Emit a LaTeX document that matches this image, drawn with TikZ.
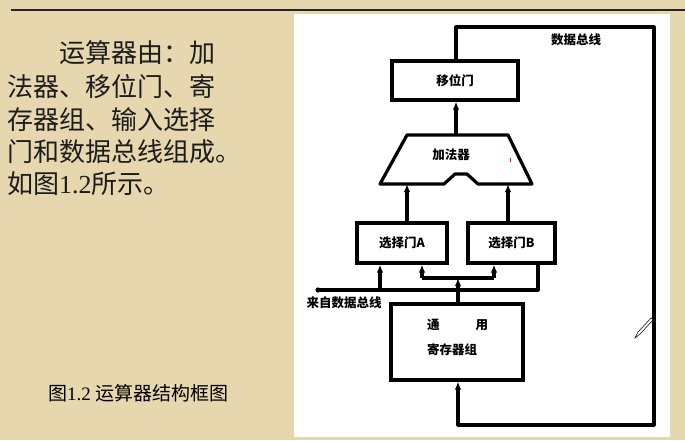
\documentclass[tikz,border=0pt]{standalone}
\usepackage{fontspec}
\newfontfamily\cjk{Noto Sans CJK SC}
\newfontfamily\tms{Liberation Serif}
\usetikzlibrary{arrows.meta}
\definecolor{bg}{RGB}{230,215,175}
\definecolor{ink}{RGB}{28,28,28}
\begin{document}
\begin{tikzpicture}[x=1pt,y=-1pt,
  box/.style={draw, line width=3.2pt, inner sep=0pt, font=\cjk\bfseries\fontsize{12.5}{14}\selectfont},
  lbl/.style={inner sep=0pt, font=\cjk\bfseries\fontsize{12.5}{14}\selectfont},
  wire/.style={line width=3.2pt},
  arr/.style={wire, -{Latex[length=8pt,width=6.5pt]}},
  big/.style={anchor=west, inner sep=0pt, text=ink, font=\cjk\fontsize{26}{30}\selectfont}]
\fill[bg] (0,0) rectangle (685,440);
\useasboundingbox (0,0) rectangle (685,440);
\draw[line width=1.3pt, black!85] (11,10) -- (685,10);
\fill[white] (294,14) rectangle (670,437);

% left text
\node[big] (t1) at (59,53) {运算器由：加};
\node[big] (t2) at (7,87) {法器、移位门、寄};
\node[big] (t3) at (7,120) {存器组、输入选择};
\node[big] (t4) at (7,152) {门和数据总线组成。};
\node[big] (t5) at (7,184) {如图{\tms 1.2}所示。};
\node[anchor=west, inner sep=0pt, font=\cjk\fontsize{19}{22}\selectfont] (cap) at (48,393) {图{\tms 1.2} 运算器结构框图};

% boxes
\node[box, minimum width=126pt, minimum height=39pt] (shift) at (455,80.5) {移位门};
\node[box, minimum width=90pt, minimum height=40pt] (selA) at (402,243) {选择门A};
\node[box, minimum width=87pt, minimum height=40pt] (selB) at (511.5,243) {选择门B};
\node[box, minimum width=132pt, minimum height=76pt] (reg) at (457,342) {};
\node[lbl, anchor=west] (r1) at (427,325) {通\hspace{36pt}用};
\node[lbl, anchor=west] (r2) at (427,350) {寄存器组};

% adder
\draw[wire, line join=round] (407,135) -- (508,135) -- (532,184) -- (478,184) -- (467,174) -- (455,174) -- (444,184) -- (380,184) -- cycle;
\node[lbl] (adder) at (451,155) {加法器};
\coordinate (addA) at (407,184);
\coordinate (addB) at (508,184);
\coordinate (addOut) at (456,135);

\draw[arr] (addOut) -- (addOut |- shift.south);
\draw[arr] (selA.north -| addA) -- (addA);
\draw[arr] (selB.north -| addB) -- (addB);

% data bus loop
\coordinate (bt1) at (456,27);
\coordinate (bt2) at (654,27);
\coordinate (bb1) at (654,425);
\coordinate (bb2) at (458,425);
\draw[arr, line join=round] (shift.north -| bt1) -- (bt1) -- (bt2) -- (bb1) -- (bb2) -- (bb2 |- reg.south);
\node[lbl] (dbus) at (576,40) {数据总线};

% input from data bus
\coordinate (in) at (318,290);
\coordinate (inEnd) at (538,290);
\coordinate (inA) at (380,290);
\draw[wire, line join=round] (in) -- (inEnd) -- (inEnd |- selB.south);
\fill (in) circle (2.6pt);
\draw[arr] (inA) -- (inA |- selA.south);
\node[lbl] (from) at (344,303) {来自数据总线};

% register outputs
\coordinate (rj) at (458,278);
\coordinate (rl) at (422,278);
\coordinate (rr) at (494,278);
\draw[arr] (reg.north -| rj) -- (rj);
\draw[wire] (rl) -- (rr);
\draw[arr] (rl) -- (rl |- selA.south);
\draw[arr] (rr) -- (rr |- selB.south);

% small marks
\draw[red, line width=1pt] (510,157.5) -- (510,162);
\draw[line width=0.5pt, fill=white] (635,338) -- (638,332) -- (651,318) -- (653,320) -- (640,334) -- cycle;
\end{tikzpicture}
\end{document}
